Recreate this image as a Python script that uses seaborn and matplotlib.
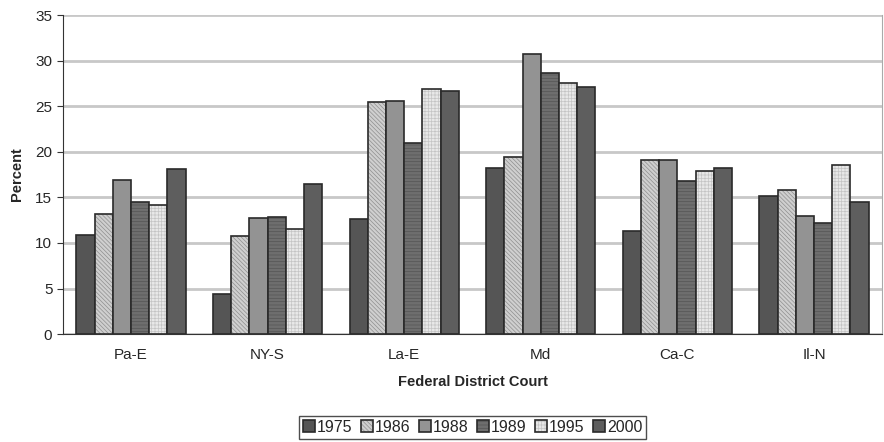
import numpy as np
import pandas as pd
import matplotlib
matplotlib.use("Agg")
import matplotlib.pyplot as plt
import seaborn as sns

# Percent by federal district court and year
courts = ["Pa-E", "NY-S", "La-E", "Md", "Ca-C", "Il-N"]
years = ["1975", "1986", "1988", "1989", "1995", "2000"]
v1975 = [10.9, 4.4, 12.6, 18.2, 11.3, 15.2]
v1986 = [13.2, 10.8, 25.5, 19.4, 19.1, 15.8]
v1988 = [16.9, 12.7, 25.6, 30.7, 19.1, 13.0]
v1989 = [14.5, 12.8, 21.0, 28.6, 16.8, 12.2]
v1995 = [14.2, 11.5, 26.9, 27.5, 17.9, 18.6]
v2000 = [18.1, 16.5, 26.7, 27.1, 18.2, 14.5]

series = [v1975, v1986, v1988, v1989, v1995, v2000]
df = pd.DataFrame([
    {"court": c, "year": y, "pct": v}
    for y, vals in zip(years, series)
    for c, v in zip(courts, vals)
])

sns.set_style("white")
plt.rcParams["font.family"] = ["Liberation Sans", "DejaVu Sans"]
plt.rcParams["hatch.linewidth"] = 0.5

colors = ["#555555", "#cfcfcf", "#939393", "#6e6e6e", "#e8e8e8", "#5e5e5e"]
hatches = ["", "\\" * 8, "", "-" * 5, "+" * 5, ""]
hatch_colors = ["#555555", "#8f8f8f", "#939393", "#555555", "#c4c4c4", "#5e5e5e"]

fig = plt.figure(figsize=(8.84, 4.42), dpi=100)
ax = fig.add_axes([0.071, 0.244, 0.927, 0.722])

sns.barplot(data=df, x="court", y="pct", hue="year", palette=colors,
            edgecolor="#2a2a2a", linewidth=1.2, width=0.8, ax=ax)

for cont, h, hc in zip(ax.containers, hatches, hatch_colors):
    for bar in cont:
        if h:
            bar.set_hatch(h)
            bar._hatch_color = matplotlib.colors.to_rgba(hc)

ax.set_ylim(0, 35)
ax.set_xlim(-0.5, 5.5)
ax.set_yticks(range(0, 36, 5))
ax.yaxis.grid(True, color="#c8c8c8", linewidth=2)
ax.set_axisbelow(True)

ax.spines["top"].set_visible(False)
ax.spines["left"].set_color("#333333")
ax.spines["bottom"].set_color("#333333")
ax.spines["right"].set_color("#aaaaaa")

ax.set_xticks(np.arange(-0.5, 6, 1), minor=True)
ax.tick_params(axis="x", which="major", length=0, labelsize=11, pad=10)
ax.tick_params(axis="x", which="minor", length=5, color="#333333", direction="out")
ax.tick_params(axis="y", length=4, color="#333333", labelsize=11, left=True)

ax.set_xlabel("Federal District Court", fontweight="bold", fontsize=10.5, labelpad=9)
ax.set_ylabel("Percent", fontweight="bold", fontsize=10.5, labelpad=8)

leg = ax.legend(loc="upper center", bbox_to_anchor=(0.5, -0.255), ncol=6,
                frameon=True, fancybox=False, edgecolor="#222222",
                handlelength=0.75, handleheight=0.75, handletextpad=0.15,
                columnspacing=0.5, borderpad=0.25, borderaxespad=0,
                fontsize=11.5)
leg.get_frame().set_linewidth(1)
for patch, h, hc in zip(leg.get_patches(), hatches, hatch_colors):
    patch.set_edgecolor("#2a2a2a")
    if h:
        patch.set_hatch(h)
        patch._hatch_color = matplotlib.colors.to_rgba(hc)

fig.savefig("out.png", dpi=100)
